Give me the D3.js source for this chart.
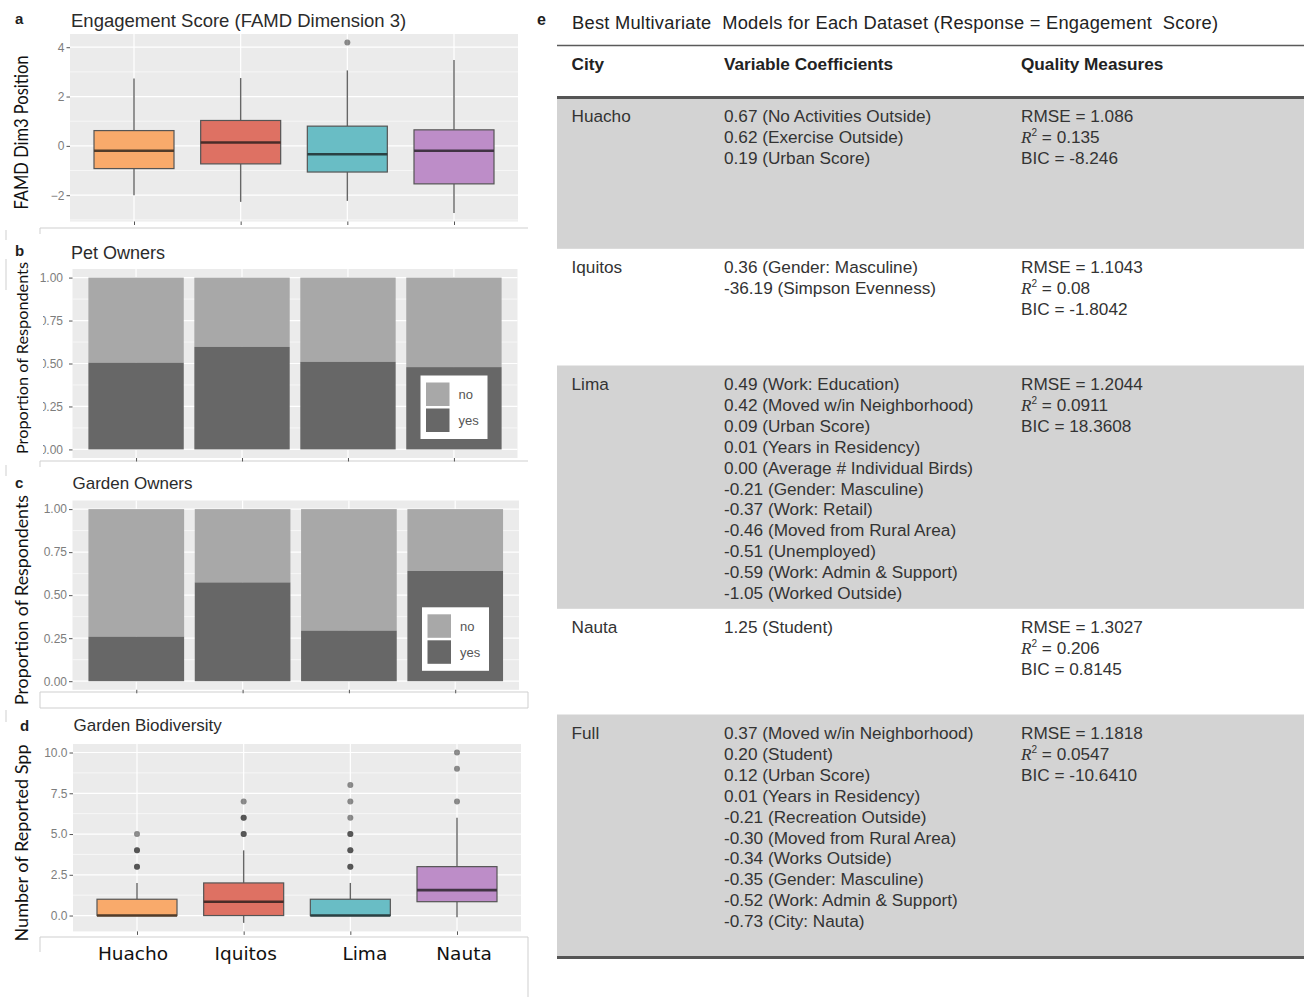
<!DOCTYPE html>
<html><head><meta charset="utf-8">
<script src="https://cdn.jsdelivr.net/npm/d3@7"></script>
<style>
body{margin:0;background:#fff;}
svg{display:block;}
text{font-family:'Liberation Sans',Arial,sans-serif;}
</style></head><body>
<svg id="fig" width="1314" height="997"></svg>
<script>
// ---------- data ----------
const cities = ["Huacho", "Iquitos", "Lima", "Nauta"];
const cityFill = ["#f9aa6b", "#de7163", "#69bdc5", "#bd8dc8"];

// (a) engagement score (FAMD dimension 3) box statistics
const engLower   = [-2.00, -2.27, -2.23, -2.72];
const engQ1      = [-0.92, -0.73, -1.06, -1.54];
const engMedian  = [-0.20,  0.14, -0.34, -0.20];
const engQ3      = [ 0.62,  1.03,  0.80,  0.65];
const engUpper   = [ 2.73,  2.75,  3.06,  3.48];
const engOutliers = [[], [], [4.19], []];
const engTicks = [-2, 0, 2, 4];

// (b) pet owners, (c) garden owners: share answering "yes"
const petYes    = [0.505, 0.597, 0.510, 0.479];
const gardenYes = [0.259, 0.574, 0.294, 0.641];
const propTicks = [0, 0.25, 0.5, 0.75, 1];
const answerKeys = ["no", "yes"];

// (d) garden biodiversity box statistics
const bioLower  = [0, -0.45, 0, -0.10];
const bioQ1     = [0, 0, 0, 0.85];
const bioMedian = [0, 0.85, 0, 1.56];
const bioQ3     = [1, 2, 1, 3];
const bioUpper  = [2, 4, 2, 6];
const bioOutliers = [[3, 3, 4, 4, 5], [5, 5, 6, 6, 7], [3, 3, 4, 4, 5, 5, 6, 7, 8], [7, 9, 10]];
const bioTicks = [0, 2.5, 5, 7.5, 10];

// (e) best multivariate models
const modelNames = ["Huacho", "Iquitos", "Lima", "Nauta", "Full"];
const modelCoefs = [
  ["0.67 (No Activities Outside)", "0.62 (Exercise Outside)", "0.19 (Urban Score)"],
  ["0.36 (Gender: Masculine)", "-36.19 (Simpson Evenness)"],
  ["0.49 (Work: Education)", "0.42 (Moved w/in Neighborhood)", "0.09 (Urban Score)",
   "0.01 (Years in Residency)", "0.00 (Average # Individual Birds)", "-0.21 (Gender: Masculine)",
   "-0.37 (Work: Retail)", "-0.46 (Moved from Rural Area)", "-0.51 (Unemployed)",
   "-0.59 (Work: Admin & Support)", "-1.05 (Worked Outside)"],
  ["1.25 (Student)"],
  ["0.37 (Moved w/in Neighborhood)", "0.20 (Student)", "0.12 (Urban Score)",
   "0.01 (Years in Residency)", "-0.21 (Recreation Outside)", "-0.30 (Moved from Rural Area)",
   "-0.34 (Works Outside)", "-0.35 (Gender: Masculine)", "-0.52 (Work: Admin & Support)",
   "-0.73 (City: Nauta)"]
];
const modelRMSE = ["1.086", "1.1043", "1.2044", "1.3027", "1.1818"];
const modelR2   = ["0.135", "0.08", "0.0911", "0.206", "0.0547"];
const modelBIC  = ["-8.246", "-1.8042", "18.3608", "0.8145", "-10.6410"];

// ---------- layout ----------
const svg = d3.select("#fig");
svg.append("rect").attr("width", 1314).attr("height", 997).attr("fill", "#fff");

const panelBoxes = {
  a: {x0: 70,   x1: 518,   y0: 34,    y1: 221.5},
  b: {x0: 72.5, x1: 517.5, y0: 269,   y1: 458},
  c: {x0: 72.5, x1: 519,   y0: 500.5, y1: 689.8},
  d: {x0: 73,   x1: 521,   y0: 744,   y1: 931.4}
};
const BG = "#ebebeb", TICKCOL = "#7d7d7d";

function xScaleFor(box) {
  return d3.scalePoint().domain(cities).range([box.x0, box.x1]).padding(0.6);
}

// panel background, grid, axes (ggplot grey theme)
function drawFrame(box, x, y, ticks, fmt, pad) {
  const g = svg.append("g");
  g.append("rect").attr("x", box.x0).attr("y", box.y0)
    .attr("width", box.x1 - box.x0).attr("height", box.y1 - box.y0).attr("fill", BG);
  const [d0, d1] = y.domain();
  const step = ticks[1] - ticks[0];
  const minor = [ticks[0] - step / 2];
  ticks.forEach(t => minor.push(t + step / 2));
  g.selectAll(".minor").data(minor.filter(v => v > d0 && v < d1)).join("line")
    .attr("x1", box.x0).attr("x2", box.x1).attr("y1", d => y(d)).attr("y2", d => y(d))
    .attr("stroke", "#fff").attr("stroke-width", 0.6);
  g.selectAll(".major").data(ticks).join("line")
    .attr("x1", box.x0).attr("x2", box.x1).attr("y1", d => y(d)).attr("y2", d => y(d))
    .attr("stroke", "#fff").attr("stroke-width", 1.2);
  g.selectAll(".vgrid").data(cities).join("line")
    .attr("x1", d => x(d)).attr("x2", d => x(d)).attr("y1", box.y0).attr("y2", box.y1)
    .attr("stroke", "#fff").attr("stroke-width", 1.2);

  const ax = g.append("g").attr("transform", `translate(${box.x0},0)`)
    .call(d3.axisLeft(y).tickValues(ticks).tickFormat(fmt).tickSize(3.5).tickPadding(pad || 2));
  ax.select(".domain").remove();
  ax.selectAll("line").attr("stroke", "#555");
  ax.selectAll("text").attr("fill", TICKCOL).style("font-size", "12px")
    .style("font-family", "'Liberation Sans',Arial,sans-serif");

  const bx = g.append("g").attr("transform", `translate(0,${box.y1})`)
    .call(d3.axisBottom(x).tickSize(3.5).tickFormat(""));
  bx.select(".domain").remove();
  bx.selectAll("line").attr("stroke", "#555");
  return g;
}

function drawBoxes(box, x, y, lower, q1, med, q3, upper, outliers) {
  const g = svg.append("g");
  const w = x.step() * 0.75;
  cities.forEach((c, i) => {
    const cx = x(c);
    g.append("line").attr("x1", cx).attr("x2", cx).attr("y1", y(upper[i])).attr("y2", y(q3[i]))
      .attr("stroke", "#666").attr("stroke-width", 1.4);
    g.append("line").attr("x1", cx).attr("x2", cx).attr("y1", y(q1[i])).attr("y2", y(lower[i]))
      .attr("stroke", "#666").attr("stroke-width", 1.4);
    g.append("rect").attr("x", cx - w / 2).attr("y", y(q3[i]))
      .attr("width", w).attr("height", Math.max(0.5, y(q1[i]) - y(q3[i])))
      .attr("fill", cityFill[i]).attr("stroke", "#555").attr("stroke-width", 1.2);
    g.append("line").attr("x1", cx - w / 2).attr("x2", cx + w / 2)
      .attr("y1", y(med[i])).attr("y2", y(med[i]))
      .attr("stroke", d3.interpolateRgb(cityFill[i], "#111")(0.72)).attr("stroke-width", 2.6);
    g.selectAll(null).data(outliers[i]).join("circle")
      .attr("cx", cx).attr("cy", d => y(d)).attr("r", 3)
      .attr("fill", "#222").attr("fill-opacity", 0.5);
  });
}

function paddedDomain(arrays) {
  const all = arrays.flat(2);
  const [lo, hi] = d3.extent(all);
  const pad = (hi - lo) * 0.05;
  return [lo - pad, hi + pad];
}

function drawTitle(letter, lx, ly, title, tx, ty, size) {
  svg.append("text").attr("x", lx).attr("y", ly).text(letter)
    .attr("font-weight", "bold").attr("font-size", 15).attr("fill", "#1e1e1e");
  svg.append("text").attr("x", tx).attr("y", ty).text(title)
    .attr("font-size", size).attr("fill", "#2b2b2b");
}

function drawYTitle(label, cy, size, len) {
  svg.append("text").attr("transform", `translate(28,${cy}) rotate(-90)`)
    .attr("text-anchor", "middle").attr("font-size", size).attr("fill", "#111")
    .style("font-family", "Lato,'Open Sans',sans-serif")
    .attr("textLength", len).attr("lengthAdjust", "spacingAndGlyphs").text(label);
}

// ---------- panel frame lines of the composite ----------
const frame = svg.append("g").attr("stroke", "#cfcfcf").attr("stroke-width", 1).attr("fill", "none");
[[40, 228, 528, 228], [40, 228, 40, 234], [40, 461, 528, 461], [40, 461, 40, 467],
 [40, 692, 528, 692], [40, 708, 528, 708], [40, 692, 40, 708], [528, 692, 528, 708],
 [40, 937, 528, 937], [40, 937, 40, 952], [528, 937, 528, 997],
 [6, 230, 6, 240], [6, 259, 6, 298], [6, 465, 6, 476], [6, 710, 6, 722]]
  .forEach(l => frame.append("line").attr("x1", l[0]).attr("y1", l[1]).attr("x2", l[2]).attr("y2", l[3]));

// ---------- (a) engagement score ----------
{
  const box = panelBoxes.a;
  const x = xScaleFor(box);
  const y = d3.scaleLinear()
    .domain(paddedDomain([engLower, engUpper, engOutliers]))
    .range([box.y1, box.y0]);
  drawFrame(box, x, y, engTicks, d3.format("d"));
  drawBoxes(box, x, y, engLower, engQ1, engMedian, engQ3, engUpper, engOutliers);
  drawTitle("a", 15, 24, "Engagement Score (FAMD Dimension 3)", 71, 26.5, 18.5);
  drawYTitle("FAMD Dim3 Position", 132.5, 19, 154);
}

// ---------- (b), (c) stacked proportion bars ----------
function drawProportion(box, yesVals, clipTicks) {
  const x = xScaleFor(box);
  const y = d3.scaleLinear().domain([-0.05, 1.05]).range([box.y1, box.y0]);
  drawFrame(box, x, y, propTicks, d3.format(".2f"), clipTicks ? 6 : 2);
  const bw = x.step() * 0.9;
  const g = svg.append("g");
  g.selectAll(".no").data(yesVals).join("rect")
    .attr("x", (d, i) => x(cities[i]) - bw / 2).attr("width", bw)
    .attr("y", y(1)).attr("height", d => y(d) - y(1)).attr("fill", "#a8a8a8");
  g.selectAll(".yes").data(yesVals).join("rect")
    .attr("x", (d, i) => x(cities[i]) - bw / 2).attr("width", bw)
    .attr("y", d => y(d)).attr("height", d => y(0) - y(d)).attr("fill", "#676767");

  // legend
  const lw = 67, lh = 63.5;
  const lx = box.x1 - 30 - lw, ly = box.y1 - 19 - lh;
  const lg = svg.append("g").attr("transform", `translate(${lx},${ly})`);
  lg.append("rect").attr("width", lw).attr("height", lh).attr("fill", "#fff");
  const keyFill = {no: "#a8a8a8", yes: "#676767"};
  answerKeys.forEach((k, i) => {
    lg.append("rect").attr("x", 5.5).attr("y", 7 + i * 26).attr("width", 23.5).attr("height", 23.5)
      .attr("fill", keyFill[k]);
    lg.append("text").attr("x", 38).attr("y", 7 + i * 26 + 16.5).text(k)
      .attr("font-size", 13).attr("fill", "#555");
  });
  if (clipTicks) {
    // the tick labels of this panel are trimmed on their left edge
    svg.append("rect").attr("x", 0).attr("y", 290).attr("width", 43).attr("height", 168).attr("fill", "#fff");
  }
}
drawProportion(panelBoxes.b, petYes, true);
drawTitle("b", 15, 256, "Pet Owners", 71, 258.5, 18);
drawYTitle("Proportion of Respondents", 358, 16, 192);

drawProportion(panelBoxes.c, gardenYes, false);
drawTitle("c", 15, 488, "Garden Owners", 72.5, 488.5, 17);
drawYTitle("Proportion of Respondents", 600, 17.5, 210);

// ---------- (d) garden biodiversity ----------
{
  const box = panelBoxes.d;
  const x = xScaleFor(box);
  const y = d3.scaleLinear()
    .domain(paddedDomain([bioLower, bioUpper, bioOutliers]))
    .range([box.y1, box.y0]);
  drawFrame(box, x, y, bioTicks, d3.format(".1f"));
  drawBoxes(box, x, y, bioLower, bioQ1, bioMedian, bioQ3, bioUpper, bioOutliers);
  drawTitle("d", 20, 731, "Garden Biodiversity", 73.5, 731, 17);
  drawYTitle("Number of Reported Spp", 843, 17.5, 197);

  // large city labels under the bottom panel
  const nudge = [-4, 2, 14.5, 7];
  svg.append("g").selectAll("text").data(cities).join("text")
    .attr("x", (d, i) => x(d) + nudge[i]).attr("y", 960)
    .attr("text-anchor", "middle").attr("font-size", 18.5).attr("fill", "#111")
    .style("font-family", "'DejaVu Sans',Verdana,sans-serif").text(d => d);
}

// ---------- (e) model table ----------
{
  const g = svg.append("g");
  const tLeft = 557, tRight = 1304;
  const colX = [571.5, 724, 1021];
  const lineH = 20.9;
  const fs = 17.2, tc = "#333";
  const rowHeights = [151.3, 116.7, 243.3, 105.7, 243];
  const bodyTop = 97.5;

  g.append("text").attr("x", 537).attr("y", 25).text("e")
    .attr("font-weight", "bold").attr("font-size", 16).attr("fill", "#1e1e1e");
  g.append("text").attr("x", 572).attr("y", 28.5)
    .text("Best Multivariate\u00a0 Models for Each Dataset (Response = Engagement\u00a0 Score)")
    .attr("font-size", 18.3).attr("fill", "#222")
    .attr("textLength", 646).attr("lengthAdjust", "spacing");

  // row bands
  let top = bodyTop;
  const rowTops = rowHeights.map(h => { const t = top; top += h; return t; });
  modelNames.forEach((m, i) => {
    if (i % 2 === 0) {
      g.append("rect").attr("x", tLeft).attr("y", rowTops[i]).attr("width", tRight - tLeft)
        .attr("height", rowHeights[i]).attr("fill", "#d3d3d3");
    }
  });
  // rules
  g.append("line").attr("x1", tLeft).attr("x2", tRight).attr("y1", 45.5).attr("y2", 45.5)
    .attr("stroke", "#5a5a5a").attr("stroke-width", 1.6);
  g.append("line").attr("x1", tLeft).attr("x2", tRight).attr("y1", bodyTop).attr("y2", bodyTop)
    .attr("stroke", "#555").attr("stroke-width", 3);
  g.append("line").attr("x1", tLeft).attr("x2", tRight).attr("y1", top).attr("y2", top)
    .attr("stroke", "#555").attr("stroke-width", 3);

  // header
  ["City", "Variable Coefficients", "Quality Measures"].forEach((h, j) => {
    g.append("text").attr("x", colX[j]).attr("y", 69.5).text(h)
      .attr("font-weight", "bold").attr("font-size", fs).attr("fill", "#222");
  });

  modelNames.forEach((m, i) => {
    const base = rowTops[i] + 24.5;
    g.append("text").attr("x", colX[0]).attr("y", base).text(m)
      .attr("font-size", fs).attr("fill", tc);
    modelCoefs[i].forEach((c, k) => {
      g.append("text").attr("x", colX[1]).attr("y", base + k * lineH).text(c)
        .attr("font-size", fs).attr("fill", tc);
    });
    g.append("text").attr("x", colX[2]).attr("y", base).text("RMSE = " + modelRMSE[i])
      .attr("font-size", fs).attr("fill", tc);
    const r = g.append("text").attr("x", colX[2]).attr("y", base + lineH)
      .attr("font-size", fs).attr("fill", tc);
    r.append("tspan").style("font-family", "'Liberation Serif','Times New Roman',serif")
      .attr("font-style", "italic").text("R");
    r.append("tspan").attr("font-size", 10).attr("dy", -7).text("2");
    r.append("tspan").attr("dy", 7).text("\u00a0= " + modelR2[i]);
    g.append("text").attr("x", colX[2]).attr("y", base + 2 * lineH).text("BIC = " + modelBIC[i])
      .attr("font-size", fs).attr("fill", tc);
  });
}
</script></body></html>
